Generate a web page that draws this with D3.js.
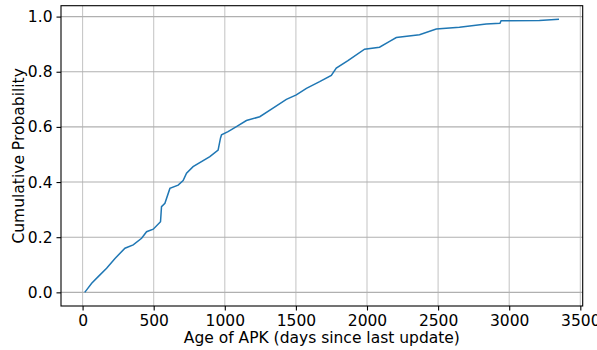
<!DOCTYPE html>
<html><head><meta charset="utf-8">
<script src="https://cdn.jsdelivr.net/npm/d3@7"></script>
<style>body{margin:0;background:#fff}svg{display:block}text{font-family:"DejaVu Sans",sans-serif}</style>
</head><body><svg id="c" width="597" height="350"></svg>
<script>
const ageDays = [15,30,64,110,169,228,298,356,415,450,497,548,555,579,614,672,707,731,777,895,953,970,977,1023,1082,1152,1246,1339,1433,1503,1574,1667,1749,1784,1866,1983,2088,2159,2206,2369,2487,2650,2838,2935,2943,3212,3350];
const cumProb = [0.0,0.01,0.033,0.057,0.087,0.123,0.16,0.172,0.196,0.22,0.229,0.256,0.311,0.323,0.377,0.389,0.405,0.432,0.456,0.492,0.516,0.56,0.571,0.583,0.601,0.623,0.637,0.668,0.70,0.716,0.740,0.764,0.787,0.813,0.840,0.882,0.889,0.91,0.924,0.934,0.955,0.961,0.973,0.976,0.985,0.986,0.99];
const xTicks = [0,500,1000,1500,2000,2500,3000,3500];
const yTicks = [0.0,0.2,0.4,0.6,0.8,1.0];
const xLabel = "Age of APK (days since last update)";
const yLabel = "Cumulative Probability";

const FS=15.5;
const L=61, R=582.7, T=5.7, B=306;
const svg=d3.select("#c");
const x=d3.scaleLinear().domain([-151.75,3516.75]).range([L,R]);
const y=d3.scaleLinear().domain([-0.0495,1.0395]).range([B,T]);

// grid
svg.append("g").selectAll("line").data(xTicks).join("line")
 .attr("x1",d=>x(d)).attr("x2",d=>x(d)).attr("y1",T).attr("y2",B)
 .attr("stroke","#c8c8c8").attr("stroke-width",1.1);
svg.append("g").selectAll("line").data(yTicks).join("line")
 .attr("y1",d=>y(d)).attr("y2",d=>y(d)).attr("x1",L).attr("x2",R)
 .attr("stroke","#b0b0b0").attr("stroke-width",1.1);

// line
const data=ageDays.map((d,i)=>[d,cumProb[i]]);
svg.append("path").datum(data)
 .attr("d",d3.line().x(d=>x(d[0])).y(d=>y(d[1])))
 .attr("fill","none").attr("stroke","#1f77b4").attr("stroke-width",1.5);

// axes
const xa=svg.append("g").attr("transform",`translate(0,${B})`)
 .call(d3.axisBottom(x).tickValues(xTicks).tickSize(4.5).tickPadding(4).tickFormat(d3.format("d")));
const ya=svg.append("g").attr("transform",`translate(${L},0)`)
 .call(d3.axisLeft(y).tickValues(yTicks).tickSize(4.5).tickPadding(4).tickFormat(d3.format(".1f")));
[xa,ya].forEach(a=>{a.select(".domain").remove();a.selectAll("text").attr("font-size",FS).attr("fill","#000").attr("font-family","DejaVu Sans");a.selectAll("line").attr("stroke","#000").attr("stroke-width",1.1);});

// frame
svg.append("rect").attr("x",L).attr("y",T).attr("width",R-L).attr("height",B-T)
 .attr("fill","none").attr("stroke","#000").attr("stroke-width",1.1);

svg.append("text").attr("x",(L+R)/2).attr("y",343).attr("text-anchor","middle").attr("font-size",FS).text(xLabel);
svg.append("text").attr("transform",`translate(24,${(T+B)/2}) rotate(-90)`).attr("text-anchor","middle").attr("font-size",FS).text(yLabel);
</script></body></html>
